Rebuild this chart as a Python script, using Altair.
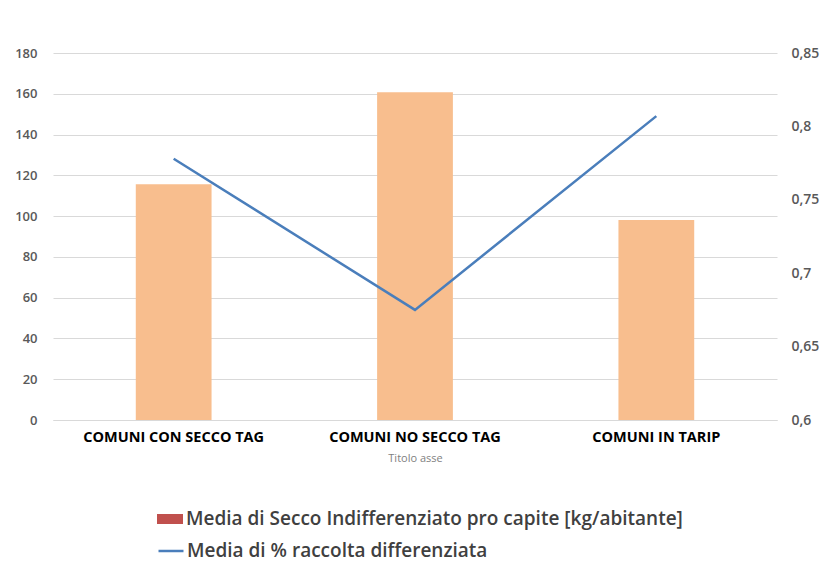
import altair as alt
import pandas as pd

categories = ["COMUNI CON SECCO TAG", "COMUNI NO SECCO TAG", "COMUNI IN TARIP"]
secco = [115.6, 160.7, 98.1]
raccolta = [0.778, 0.675, 0.807]
serie_bar = "Media di Secco Indifferenziato pro capite [kg/abitante]"
serie_line = "Media di % raccolta differenziata"

df = pd.DataFrame({
    "cat": categories,
    "secco": secco,
    "raccolta": raccolta,
    "sb": [serie_bar] * 3,
    "sl": [serie_line] * 3,
})

FONT = "Open Sans"

x = alt.X(
    "cat:N",
    sort=categories,
    scale=alt.Scale(paddingInner=0.686, paddingOuter=0.343),
    axis=alt.Axis(
        title="Titolo asse",
        titleFont=FONT, titleFontSize=11, titleFontWeight="normal", titleColor="#7f7f7f",
        titlePadding=9,
        labelFont=FONT, labelFontSize=14.5, labelFontWeight="bold", labelColor="#000000",
        labelAngle=0, labelPadding=10, ticks=False, labelLimit=400, labelOverlap=False,
        domainColor="#d9d9d9", domainWidth=1, grid=False,
    ),
)

left_axis = alt.Axis(
    title=None, values=list(range(0, 181, 20)),
    labelFont=FONT, labelFontSize=13, labelFontWeight=600, labelColor="#595959",
    labelPadding=16, ticks=False, domain=False,
    grid=True, gridColor="#d9d9d9", gridWidth=1,
)
left_scale = alt.Scale(domain=[0, 180], nice=False)

bars = alt.Chart(df).mark_bar(color="#f8be8e").encode(
    x=x,
    y=alt.Y("secco:Q", scale=left_scale, axis=left_axis),
)

dummy = alt.Chart(df).mark_bar(opacity=0).encode(
    x=x,
    y=alt.Y("secco:Q", scale=left_scale, axis=left_axis),
    fill=alt.Fill(
        "sb:N",
        scale=alt.Scale(domain=[serie_bar], range=["#c0504d"]),
        legend=alt.Legend(
            title=None, orient="none", legendX=107, legendY=456,
            symbolType="M-1.3,-0.5H1.3V0.5H-1.3Z", symbolSize=400, symbolOpacity=1,
            symbolStrokeWidth=0,
            labelFont=FONT, labelFontSize=19, labelFontWeight=600, labelColor="#404040",
            labelOffset=6, padding=0, labelLimit=800,
        ),
    ),
)

left = alt.layer(bars, dummy)

line = alt.Chart(df).mark_line(strokeWidth=2.5).encode(
    x=x,
    y=alt.Y(
        "raccolta:Q",
        scale=alt.Scale(domain=[0.6, 0.85], nice=False, zero=False),
        axis=alt.Axis(
            title=None, orient="right", values=[0.6, 0.65, 0.7, 0.75, 0.8, 0.85],
            labelExpr="replace(format(datum.value, '.2~f'), '.', ',')",
            labelFont=FONT, labelFontSize=14, labelFontWeight=600, labelColor="#595959",
            labelPadding=14, ticks=False, domain=False, grid=False,
        ),
    ),
    stroke=alt.Stroke(
        "sl:N",
        scale=alt.Scale(domain=[serie_line], range=["#4a7ebb"]),
        legend=alt.Legend(
            title=None, orient="none", legendX=104, legendY=484,
            symbolType="stroke", symbolSize=625, symbolStrokeWidth=2.5,
            labelFont=FONT, labelFontSize=19, labelFontWeight=600, labelColor="#404040",
            labelOffset=2, padding=0, labelLimit=800,
        ),
    ),
)

chart = alt.layer(left, line).resolve_scale(
    y="independent", fill="independent", stroke="independent"
).properties(
    width=724, height=367,
    autosize=alt.AutoSizeParams(type="none"),
    padding={"left": 45, "top": 45, "right": 45, "bottom": 142},
    background="white",
).configure_view(stroke=None)

chart.save("out.html", embed_options={"renderer": "svg", "actions": False})
